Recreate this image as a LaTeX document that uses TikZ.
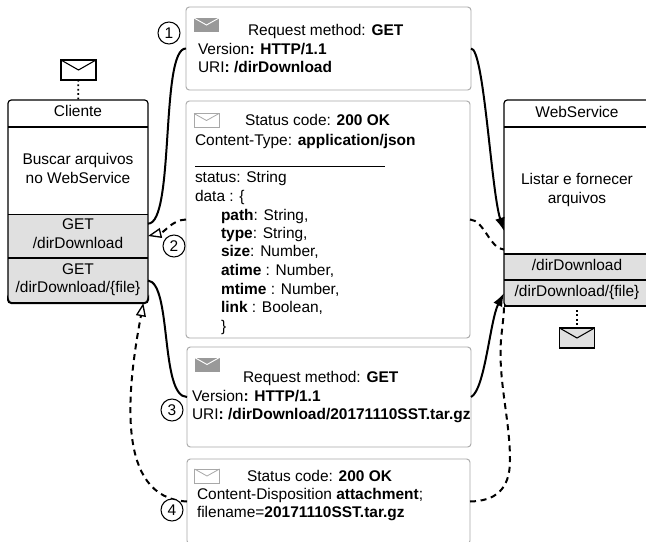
\documentclass[tikz,border=0pt]{standalone}
\usepackage{fontspec}
\setmainfont{Liberation Sans}
\usetikzlibrary{arrows.meta}
\definecolor{compgray}{HTML}{E0E0E0}
\definecolor{mailgray}{HTML}{999999}
\definecolor{edgegray}{HTML}{A8A8A8}
\newcommand{\mailicon}[5]{%
  \node (#1) [#4] at (#2,#3) {};
  \draw [#5] (#1.north west) -- (#1.center) -- (#1.north east);
}
\begin{document}
\begin{tikzpicture}[x=0.75pt,y=0.75pt,yscale=-1,xscale=1,
    every node/.style={font=\fontsize{11.6}{14}\selectfont,inner sep=0pt,outer sep=0pt},
    msgbox/.style={draw=edgegray,line width=0.7pt,rounded corners=2.5pt,fill=white},
    comp/.style={align=center,minimum width=105pt,text depth=3.5pt},
    webcomp/.style={align=center,minimum width=109.5pt,text depth=3pt},
    txt/.style={anchor=west,text height=10pt,text depth=2pt},
    num/.style={circle,draw,line width=0.8pt,fill=white,minimum size=16.5pt},
    flow/.style={line width=1.5pt},
    dashflow/.style={flow,dash pattern={on 4.5pt off 3.5pt}},
    req/.style={flow,-{Latex[length=10pt,width=7.5pt]}},
    resp/.style={dashflow,-{Triangle[open,length=10pt,width=7.5pt,line width=1pt,fill=white]}},
    mailbig/.style={minimum width=26.25pt,minimum height=15pt},
    mailsmall/.style={minimum width=18.75pt,minimum height=10.5pt}]
        \path [use as bounding box] (0,0) rectangle (646,542);

        %Message boxes
        \node (msgOne) [msgbox,minimum width=213.75pt,minimum height=62.25pt] at (328.5,48.5) {};
        \node (msgTwo) [msgbox,minimum width=213pt,minimum height=177.75pt] at (328,219.5) {};
        \node (msgThree) [msgbox,minimum width=213pt,minimum height=75pt] at (329,397) {};
        \node (msgFour) [msgbox,minimum width=212.25pt,minimum height=63.75pt] at (328.5,501.5) {};

        %Cliente
        \fill [compgray] (8,214) -- (148,214) [rounded corners=2.5pt] -- (148,303) -- (8,303) [sharp corners] -- cycle;
        \node (cliHead) [comp,minimum height=20.25pt] at (78,113.5) {Cliente};
        \node (cliBody) [comp,minimum height=65.25pt] at (78,170.5) {Buscar arquivos\\no WebService};
        \node (cliGet) [comp,minimum height=33pt] at (78,236) {GET\\/dirDownload};
        \node (cliFile) [comp,minimum height=33.75pt] at (78,280.5) {GET\\/dirDownload/\{file\}};
        \draw [line width=0.9pt,rounded corners=2.5pt] (cliHead.north west) rectangle (cliFile.south east);
        \draw [line width=1.4pt] (cliHead.south west) -- (cliHead.south east);
        \draw [line width=0.7pt] (cliBody.south west) -- (cliBody.south east);
        \draw [line width=0.9pt] (cliGet.south west) -- (cliGet.south east);
        \draw [line width=1.5pt,rounded corners=2.5pt] (8,300) -- (cliFile.south west) -- (cliFile.south east) -- (148,300);

        %WebService
        \fill [compgray] (504,254) rectangle (650,306);
        \node (webHead) [webcomp,minimum height=20.25pt] at (577,113.5) {WebService};
        \node (webBody) [webcomp,minimum height=95.25pt] at (577,190.5) {Listar e fornecer\\arquivos};
        \node (webGet) [webcomp,minimum height=19.5pt] at (577,267) {/dirDownload};
        \node (webFile) [webcomp,minimum height=19.5pt] at (577,293) {/dirDownload/\{file\}};
        \draw [line width=0.9pt,rounded corners=2.5pt] (webHead.north west) rectangle (webFile.south east);
        \draw [line width=1.4pt] (webHead.south west) -- (webHead.south east);
        \draw [line width=1.4pt] (webBody.south west) -- (webBody.south east);
        \draw [line width=1.4pt] (webGet.south west) -- (webGet.south east);
        \draw [line width=1.4pt] (webFile.south west) -- (webFile.south east);

        %Envelopes
        \mailicon{mailClient}{78.5}{70}{mailbig,draw,line width=1.2pt}{line width=0.8pt}
        \mailicon{mailWeb}{577}{338}{mailbig,draw,line width=1.2pt,fill=compgray}{line width=0.8pt}
        \mailicon{mailOne}{206.5}{25}{mailsmall,fill=mailgray}{white,line width=0.7pt}
        \mailicon{mailTwo}{206.5}{120.5}{mailsmall,draw=edgegray,line width=0.6pt}{edgegray,line width=0.6pt}
        \mailicon{mailThree}{207}{364.5}{mailsmall,fill=mailgray}{white,line width=0.7pt}
        \mailicon{mailFour}{207}{476}{mailsmall,draw=edgegray,line width=0.6pt}{edgegray,line width=0.6pt}
        \draw [line width=1.3pt,dotted] (mailClient) -- (cliHead);
        \draw [line width=1.3pt,dotted] (webFile.south) ++(0,4) -- (mailWeb);

        %Curves
        \draw [flow] (cliGet.10) .. controls (175,224) and (160,48) .. (msgOne.west);
        \draw [req] (msgOne.east) .. controls (484,48) and (491,190) .. (webBody.209);
        \draw [dashflow] (msgTwo.east) .. controls (484,220) and (490,249) .. (webBody.219);
        \draw [resp] (msgTwo.west) .. controls (172,220) and (165,232) .. (cliGet.east);
        \draw [flow] (cliFile.east) .. controls (172,283) and (160,397) .. (msgThree.west);
        \draw [req] (msgThree.east) .. controls (485,390) and (490,320) .. (webFile.west);
        \draw [resp] (msgFour.west) .. controls (115,498) and (127,390) .. (cliFile.-19);
        \draw [dashflow] (msgFour.east) .. controls (495,501) and (510,490) .. (510,460) .. controls (510,420) and (498,380) .. (501,340) .. controls (502,328) and (504,316) .. (webFile.south west);

        %Numbers
        \node (numOne) [num] at (169,33) {1};
        \node (numTwo) [num] at (174,246) {2};
        \node (numThree) [num] at (172,410) {3};
        \node (numFour) [num] at (172,510) {4};

        % Text Node
        \node (oneA) [txt] at (248,30) {Request method: \textbf{GET}};
        \node (oneB) [txt] at (198,49) {Version\textbf{: HTTP/1.1}};
        \node (oneC) [txt] at (198,67) {URI\textbf{: /dirDownload}};
        % Text Node
        \node (twoA) [txt] at (245,120) {Status code: \textbf{200 OK}};
        \node (twoB) [txt] at (195,140) {Content-Type: \textbf{application/json}};
        \draw [line width=0.6pt] (195,166) -- (385,166);
        \node (twoC) [txt] at (195,177) {status: String};
        \node (twoD) [txt] at (195,196) {data : \{};
        \node (twoE) [txt] at (221,215) {\textbf{path}: String,};
        \node (twoF) [txt] at (221,233) {\textbf{type}: String,};
        \node (twoG) [txt] at (221,251) {\textbf{size}: Number,};
        \node (twoH) [txt] at (221,270) {\textbf{atime} : Number,};
        \node (twoI) [txt] at (221,289) {\textbf{mtime} : Number,};
        \node (twoJ) [txt] at (221,307) {\textbf{link} : Boolean,};
        \node (twoK) [txt] at (221,326) {\}};
        % Text Node
        \node (threeA) [txt] at (243,377) {Request method: \textbf{GET}};
        \node (threeB) [txt] at (192,396) {Version\textbf{: HTTP/1.1}};
        \node (threeC) [txt] at (192,414) {URI\textbf{: /dirDownload/20171110SST.tar.gz}};
        % Text Node
        \node (fourA) [txt] at (247,476) {Status code: \textbf{200 OK}};
        \node (fourB) [txt] at (197,494) {Content-Disposition \textbf{attachment};};
        \node (fourC) [txt] at (197,512) {filename=\textbf{20171110SST.tar.gz}};
\end{tikzpicture}
\end{document}
